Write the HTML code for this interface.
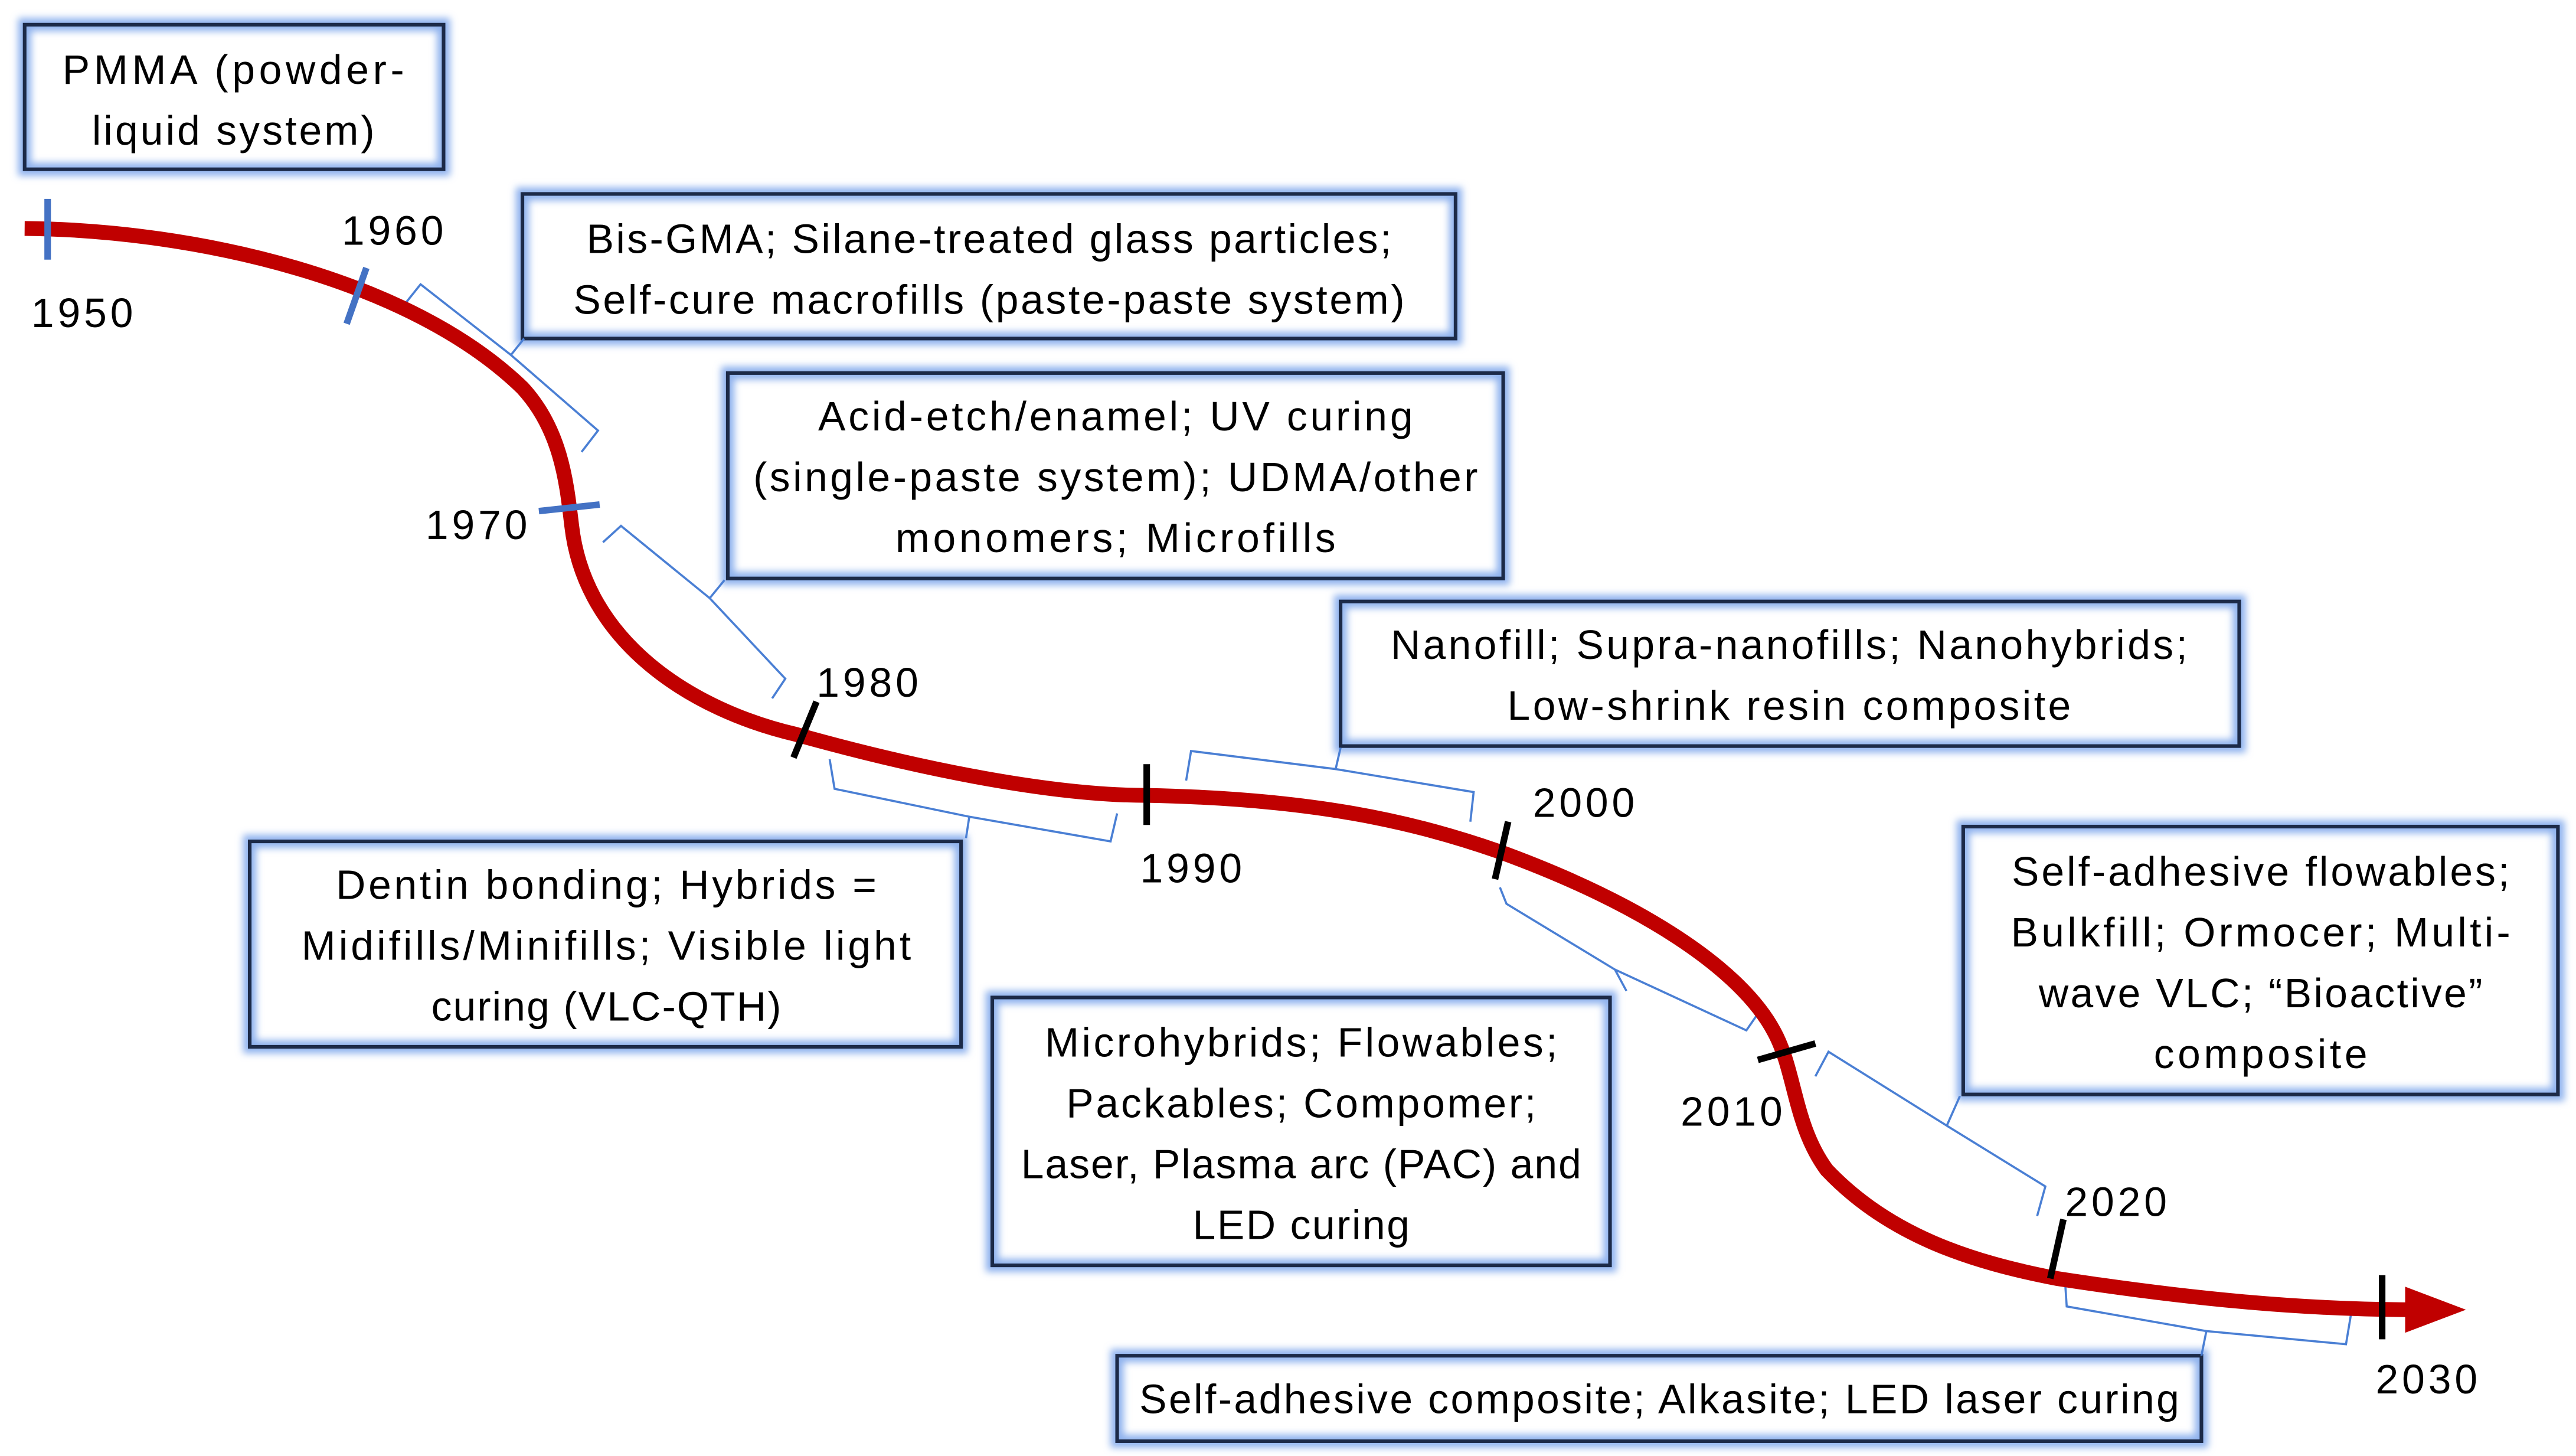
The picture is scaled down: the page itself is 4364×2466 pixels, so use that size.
<!DOCTYPE html>
<html><head><meta charset="utf-8"><style>html,body{margin:0;padding:0;background:#fff}svg{display:block}</style></head>
<body>
<svg xmlns="http://www.w3.org/2000/svg" width="4364" height="2466" viewBox="0 0 1568 886">
<defs>
<filter id="g" x="-10%" y="-20%" width="120%" height="140%"><feGaussianBlur stdDeviation="2.2"/></filter>
</defs>
<g fill="none">
<!-- boxes glow -->
<g stroke="#8fb2ee" stroke-width="8" filter="url(#g)">
<rect x="15" y="15" width="255" height="88"/>
<rect x="318" y="118" width="568" height="88"/>
<rect x="443" y="227" width="472" height="125"/>
<rect x="816" y="366" width="547" height="88"/>
<rect x="152" y="512" width="433" height="125"/>
<rect x="604" y="607" width="376" height="163"/>
<rect x="1195" y="503" width="362" height="163"/>
<rect x="680" y="825" width="660" height="52"/>
</g>
<g stroke="#1c2a48" stroke-width="2.2">
<rect x="15" y="15" width="255" height="88"/>
<rect x="318" y="118" width="568" height="88"/>
<rect x="443" y="227" width="472" height="125"/>
<rect x="816" y="366" width="547" height="88"/>
<rect x="152" y="512" width="433" height="125"/>
<rect x="604" y="607" width="376" height="163"/>
<rect x="1195" y="503" width="362" height="163"/>
<rect x="680" y="825" width="660" height="52"/>
</g>
<!-- braces -->
<g stroke="#4a7fd4" stroke-width="1.3" stroke-linejoin="miter">
<path d="M244,188 L256,173 L311,216 L319,206 M311,216 L364,262 L354,275"/>
<path d="M367,330 L378,320 L432,364 L441,353 M432,364 L478,413 L470,425"/>
<path d="M505,462 L508,480 L590,497 L588,510 M590,497 L676,512 L680,495"/>
<path d="M722,475 L725,457 L813,468 L816,455 M813,468 L897,482 L895,500"/>
<path d="M913,540 L917,550 L983,590 L990,603 M983,590 L1063,627 L1072,614"/>
<path d="M1105,655 L1113,640 L1185,685 L1193,667 M1185,685 L1245,722 L1240,740"/>
<path d="M1257,780 L1258,795 L1343,810 L1340,825 M1343,810 L1428,818 L1431,800"/>
</g>
<!-- main curve -->
<path d="M15,139 C120,140 250,170 318,236 C342,262 345,295 348,320 C356,390 420,432 485,447 C560,468 640,484 698,484 C800,486 860,500 912,518 C1000,550 1060,590 1080,628 C1093,652 1092,685 1112,712 C1150,752 1200,768 1252,778 C1330,790 1400,797 1470,797" stroke="#c00000" stroke-width="9"/>
</g>
<polygon points="1464,783 1501,797 1464,811" fill="#c00000"/>
<!-- ticks -->
<g stroke-width="4">
<line x1="29" y1="121" x2="29" y2="158" stroke="#4472c4"/>
<line x1="211" y1="197" x2="223" y2="163" stroke="#4472c4"/>
<line x1="328" y1="311" x2="365" y2="307" stroke="#4472c4"/>
<g stroke="#000">
<line x1="483" y1="461" x2="497" y2="427"/>
<line x1="698" y1="465" x2="698" y2="502"/>
<line x1="910" y1="535" x2="918" y2="500"/>
<line x1="1070" y1="645" x2="1105" y2="635"/>
<line x1="1248" y1="778" x2="1256" y2="742"/>
<line x1="1450" y1="776" x2="1450" y2="815"/>
</g>
</g>
<g font-family="Liberation Sans, sans-serif" font-size="25" fill="#000" text-anchor="middle" lengthAdjust="spacingAndGlyphs">
<text x="50" y="199" textLength="62">1950</text>
<text x="239" y="149" textLength="62">1960</text>
<text x="290" y="328" textLength="62">1970</text>
<text x="528" y="424" textLength="62">1980</text>
<text x="725" y="537" textLength="62">1990</text>
<text x="964" y="497" textLength="62">2000</text>
<text x="1054" y="685" textLength="62">2010</text>
<text x="1288" y="740" textLength="62">2020</text>
<text x="1477" y="848" textLength="62">2030</text>

<text x="142" y="51" textLength="208">PMMA (powder-</text>
<text x="142" y="88" textLength="172">liquid system)</text>

<text x="602" y="154" textLength="490">Bis-GMA; Silane-treated glass particles;</text>
<text x="602" y="191" textLength="506">Self-cure macrofills (paste-paste system)</text>

<text x="679" y="262" textLength="362">Acid-etch/enamel; UV curing</text>
<text x="679" y="299" textLength="441">(single-paste system); UDMA/other</text>
<text x="679" y="336" textLength="268">monomers; Microfills</text>

<text x="1089" y="401" textLength="485">Nanofill; Supra-nanofills; Nanohybrids;</text>
<text x="1089" y="438" textLength="343">Low-shrink resin composite</text>

<text x="369" y="547" textLength="329">Dentin bonding; Hybrids =</text>
<text x="369" y="584" textLength="371">Midifills/Minifills; Visible light</text>
<text x="369" y="621" textLength="213">curing (VLC-QTH)</text>

<text x="792" y="643" textLength="312">Microhybrids; Flowables;</text>
<text x="792" y="680" textLength="286">Packables; Compomer;</text>
<text x="792" y="717" textLength="341">Laser, Plasma arc (PAC) and</text>
<text x="792" y="754" textLength="132">LED curing</text>

<text x="1376" y="539" textLength="303">Self-adhesive flowables;</text>
<text x="1376" y="576" textLength="304">Bulkfill; Ormocer; Multi-</text>
<text x="1376" y="613" textLength="270">wave VLC; “Bioactive”</text>
<text x="1376" y="650" textLength="130">composite</text>

<text x="1010" y="860" textLength="633">Self-adhesive composite; Alkasite; LED laser curing</text>
</g>
</svg>
</body></html>
